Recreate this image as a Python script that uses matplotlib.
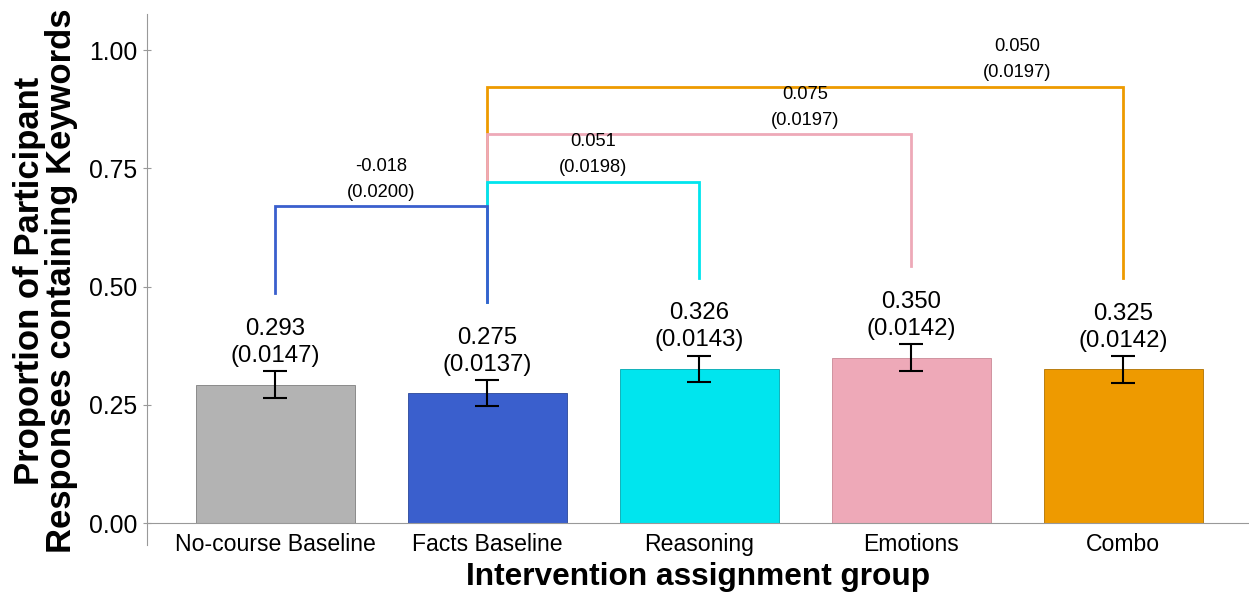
import matplotlib.pyplot as plt
import numpy as np

plt.rcParams["font.family"] = ["Liberation Sans", "DejaVu Sans"]

groups = ["No-course Baseline", "Facts Baseline", "Reasoning", "Emotions", "Combo"]
proportions = [0.293, 0.275, 0.326, 0.350, 0.325]
std_errors = [0.0147, 0.0137, 0.0143, 0.0142, 0.0142]
bar_colors = ["#b3b3b3", "#3a5fcd", "#00e5ee", "#eea9b8", "#ee9a00"]
edge_colors = ["#7f7f7f", "#2a4699", "#00a8b0", "#c98a96", "#b07200"]

# pairwise differences against the facts baseline: (from, to, diff, se)
comparisons = [
    (1, 4, 0.050, 0.0197),
    (1, 3, 0.075, 0.0197),
    (1, 2, 0.051, 0.0198),
    (1, 0, -0.018, 0.0200),
]
bracket_heights = [0.922, 0.822, 0.721, 0.670]
bracket_colors = ["#ee9a00", "#eea9b8", "#00e5ee", "#3a5fcd"]

fig = plt.figure(figsize=(12.49, 5.93), dpi=100)
ax = fig.add_axes([0.1177, 0.081, 0.8823, 0.895])

# move the x axis line to y=0 first, this resets tick label styling
ax.spines["bottom"].set_position(("data", 0))

x = np.arange(len(groups))
ci = 1.96 * np.array(std_errors)
ax.bar(x, proportions, width=0.75, color=bar_colors,
       edgecolor=edge_colors, linewidth=0.6, zorder=2)
ax.errorbar(x, proportions, yerr=ci, fmt="none", ecolor="black",
            elinewidth=1.5, capsize=8.5, capthick=1.5, zorder=3)

for xi, p, se, c in zip(x, proportions, std_errors, ci):
    ax.text(xi, p + c + 0.009, f"{p:.3f}\n({se:.4f})", ha="center", va="bottom",
            fontsize=17.3, linespacing=1.3)

# brackets from the facts baseline to each other group
leg_pad = 0.165
for (i, j, diff, se), h, col in zip(comparisons, bracket_heights, bracket_colors):
    ax.plot([x[i], x[i], x[j], x[j]],
            [proportions[i] + ci[i] + leg_pad, h, h, proportions[j] + ci[j] + leg_pad],
            color=col, linewidth=2, solid_joinstyle="miter", zorder=1)
    ax.text(max(i, j) - 0.5, h + 0.012, f"{diff:.3f}\n({se:.4f})", ha="center", va="bottom",
            fontsize=13.2, linespacing=1.7)

ax.set_xlim(-0.604, 4.594)
ax.set_ylim(-0.046, 1.076)
ax.set_yticks([0, 0.25, 0.5, 0.75, 1.0])
ax.set_yticklabels(["0.00", "0.25", "0.50", "0.75", "1.00"])
ax.set_xticks(x)
ax.set_xticklabels(groups)

for side in ["top", "right"]:
    ax.spines[side].set_visible(False)
ax.spines["bottom"].set_color("#999999")
ax.spines["left"].set_color("#999999")
ax.tick_params(axis="x", length=0, pad=7, labelsize=16.6)
ax.tick_params(axis="y", length=6, direction="inout", color="#999999", pad=4, labelsize=17.8)

fig.text(0.5589, 1 - 585 / 593, "Intervention assignment group", ha="center", va="baseline",
         fontsize=22.8, fontweight="bold")
fig.text(0.0364, 1 - 281 / 593, "Proportion of Participant\nResponses containing Keywords",
         ha="center", va="center", rotation=90, fontsize=24.9, fontweight="bold",
         linespacing=0.95)

fig.savefig("out.png", dpi=100)
